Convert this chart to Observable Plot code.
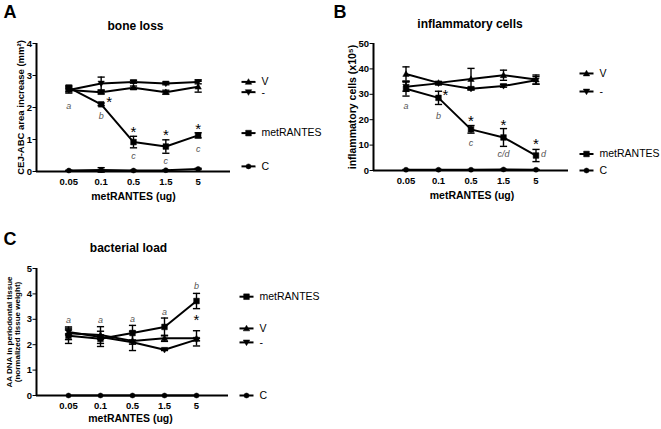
<!DOCTYPE html>
<html>
<head>
<meta charset="utf-8">
<script src="https://cdn.jsdelivr.net/npm/d3@7"></script>
<script src="https://cdn.jsdelivr.net/npm/@observablehq/plot@0.6"></script>
<style>
  html, body { margin: 0; padding: 0; background: #fff; }
  #wrap { position: relative; width: 661px; height: 429px; overflow: hidden; }
  #wrap svg { position: absolute; overflow: visible; }
</style>
</head>
<body>
<div id="wrap"></div>
<script>
// ---------- data ----------
const xLabels = ["0.05", "0.1", "0.5", "1.5", "5"];
const seriesNames = ["V", "-", "metRANTES", "C"];

// Panel A: bone loss (mm^2)
const boneV        = [2.55, 2.48, 2.62, 2.48, 2.65];
const boneVErr     = [0.10, 0.05, 0.05, 0.06, 0.17];
const boneDash     = [2.55, 2.75, 2.80, 2.75, 2.80];
const boneDashErr  = [0.05, 0.20, 0.04, 0.04, 0.06];
const boneMet      = [2.62, 2.10, 0.92, 0.78, 1.13];
const boneMetErr   = [0.07, 0.04, 0.18, 0.21, 0.08];
const boneC        = [0.03, 0.05, 0.03, 0.04, 0.08];
const boneCErr     = [0.01, 0.07, 0.01, 0.01, 0.02];
const boneTicks    = [0, 1, 2, 3, 4];
const boneLetters  = ["a", "b", "c", "c", "c"];
const boneLetterY  = [2.03, 1.72, 0.49, 0.34, 0.71];
const boneStarX    = [2, 3, 4, 5];
const boneStarY    = [2.25, 1.33, 1.22, 1.42];
const boneLegendY  = [2.80, 2.48, 1.20, 0.16];

// Panel B: inflammatory cells (x10^5)
const cellsV       = [38.0, 34.5, 36.0, 37.5, 35.8];
const cellsVErr    = [2.8, 0.5, 4.2, 2.0, 1.8];
const cellsDash    = [33.0, 34.3, 32.2, 33.3, 35.5];
const cellsDashErr = [1.8, 0.5, 0.5, 0.5, 1.5];
const cellsMet     = [32.2, 28.6, 16.2, 13.0, 5.9];
const cellsMetErr  = [2.9, 2.6, 1.5, 3.5, 2.4];
const cellsC       = [0.3, 0.3, 0.3, 0.4, 0.3];
const cellsCErr    = [0.1, 0.1, 0.1, 0.1, 0.1];
const cellsTicks   = [0, 10, 20, 30, 40, 50];
const cellsLetters = ["a", "b", "c", "c/d", "d"];
const cellsLetterY = [25.3, 21.6, 10.9, 6.5, 6.3];
const cellsStarX   = [2, 3, 4, 5];
const cellsStarY   = [31.0, 20.7, 19.2, 11.4];
const cellsLegendY = [38.2, 31.1, 6.5, 0.0];

// Panel C: bacterial load (AA DNA)
const bactV        = [2.45, 2.38, 2.15, 2.25, 2.25];
const bactVErr     = [0.25, 0.33, 0.38, 0.12, 0.30];
const bactDash     = [2.50, 2.30, 2.10, 1.80, 2.20];
const bactDashErr  = [0.08, 0.08, 0.08, 0.03, 0.05];
const bactMet      = [2.35, 2.23, 2.46, 2.70, 3.72];
const bactMetErr   = [0.30, 0.30, 0.30, 0.35, 0.30];
const bactC        = [0, 0, 0, 0, 0];
const bactCErr     = [0, 0, 0, 0, 0];
const bactTicks    = [0, 1, 2, 3, 4, 5];
const bactLetters  = ["a", "a", "a", "a", "b"];
const bactLetterY  = [2.97, 2.97, 3.00, 3.27, 4.29];
const bactStarX    = [5];
const bactStarY    = [3.08];
const bactLegendY  = [2.64, 2.09, 3.89, 0.0];

// ---------- symbols ----------
const symUp = {draw(ctx, size) { const r = Math.sqrt(size / Math.PI), h = r * 1.15;
  ctx.moveTo(0, -h); ctx.lineTo(h, h * 0.75); ctx.lineTo(-h, h * 0.75); ctx.closePath(); }};
const symDown = {draw(ctx, size) { const r = Math.sqrt(size / Math.PI), h = r * 1.15;
  ctx.moveTo(0, h); ctx.lineTo(h, -h * 0.75); ctx.lineTo(-h, -h * 0.75); ctx.closePath(); }};
const symCap = {draw(ctx, size) { const r = Math.sqrt(size / Math.PI);
  ctx.moveTo(-r, 0); ctx.lineTo(r, 0); }};
const seriesSymbol = {"V": symUp, "-": symDown, "metRANTES": "square", "C": "circle"};
const seriesR = {"V": 2.8, "-": 2.8, "metRANTES": 3.2, "C": 2.5};

function rows(name, vals, errs) {
  return vals.map((v, k) => ({series: name, i: k + 1, y: v, e: errs[k]}));
}

const FONT = "'Liberation Sans', Arial, Helvetica, sans-serif";

function panel(cfg) {
  const data = cfg.series.flatMap(s => rows(s.name, s.vals, s.errs));
  const legend = seriesNames.map((n, k) => ({name: n, y: cfg.legendY[k]}));
  const letters = cfg.letters.map((t, k) => ({t, i: k + 1, y: cfg.letterY[k], dx: cfg.letterDx ? cfg.letterDx[k] : 0}));
  const stars = cfg.starX.map((i, k) => ({i, y: cfg.starY[k], dx: cfg.starDx ? cfg.starDx[k] : 0}));
  const marks = [];
  // error bars
  const withErr = data.filter(d => d.e > 0);
  marks.push(Plot.ruleX(withErr, {x: "i", y1: d => d.y - d.e, y2: d => d.y + d.e, stroke: "black", strokeWidth: 1.4}));
  marks.push(Plot.dot(withErr, {x: "i", y: d => d.y + d.e, symbol: symCap, r: 3.6, fill: "none", stroke: "black", strokeWidth: 1.4}));
  marks.push(Plot.dot(withErr, {x: "i", y: d => d.y - d.e, symbol: symCap, r: 3.6, fill: "none", stroke: "black", strokeWidth: 1.4}));
  // lines
  marks.push(Plot.line(data, {x: "i", y: "y", z: "series", stroke: "black", strokeWidth: 2}));
  // axis lines
  marks.push(Plot.ruleY([0], {stroke: "black", strokeWidth: 2}));
  marks.push(Plot.ruleX([0], {stroke: "black", strokeWidth: 2}));
  // markers
  for (const n of seriesNames) {
    marks.push(Plot.dot(data.filter(d => d.series === n), {x: "i", y: "y", symbol: seriesSymbol[n], r: seriesR[n], fill: "black", stroke: "black", strokeWidth: 0.5}));
  }
  // letters & stars
  for (const L of letters) {
    marks.push(Plot.text([L], {x: "i", y: "y", text: "t", dx: L.dx, textAnchor: L.dx ? "start" : "middle", fontStyle: "italic", fontWeight: "normal", fontSize: 9, fill: "#555"}));
  }
  for (const S of stars) {
    marks.push(Plot.text([S], {x: "i", y: "y", text: () => "*", dx: S.dx, fontWeight: "normal", fontSize: 15, fill: "black", lineAnchor: "middle", dy: 3}));
  }
  // legend
  for (const n of seriesNames) {
    const lr = legend.filter(d => d.name === n);
    marks.push(Plot.dot(lr, {y: "y", frameAnchor: "right", dx: cfg.legDx + 6, symbol: symCap, r: 7, fill: "none", stroke: "black", strokeWidth: 2}));
    marks.push(Plot.dot(lr, {y: "y", frameAnchor: "right", dx: cfg.legDx + 6, symbol: seriesSymbol[n], r: seriesR[n], fill: "black", stroke: "black", strokeWidth: 0.5}));
  }
  marks.push(Plot.text(legend, {y: "y", text: "name", frameAnchor: "right", dx: cfg.legDx + 19, textAnchor: "start", fontWeight: "normal", fontSize: 10.5}));
  // panel letter, title, axis labels
  marks.push(Plot.text([cfg.letter], {frameAnchor: "top-left", dx: cfg.letterPos[0], dy: cfg.letterPos[1], textAnchor: "start", lineAnchor: "top", fontSize: 18, fontWeight: "bold"}));
  marks.push(Plot.text([cfg.title], {frameAnchor: "top", dx: cfg.titlePos[0], dy: cfg.titlePos[1], textAnchor: "middle", lineAnchor: "middle", fontSize: 12, fontWeight: "bold"}));
  marks.push(Plot.text(["metRANTES (ug)"], {frameAnchor: "bottom", dx: cfg.xLabPos[0], dy: cfg.xLabPos[1], textAnchor: "middle", lineAnchor: "middle", fontSize: 10.5, fontWeight: "bold"}));
  marks.push(Plot.text([cfg.yLabel], {frameAnchor: "left", dx: cfg.yLabDx, rotate: -90, textAnchor: "middle", lineAnchor: "middle", fontSize: cfg.yLabSize, lineHeight: cfg.yLabLH || 1, fontWeight: "bold"}));

  const svg = Plot.plot({
    width: cfg.width, height: cfg.height,
    marginTop: cfg.m[0], marginRight: cfg.m[1], marginBottom: cfg.m[2], marginLeft: cfg.m[3],
    style: {fontFamily: FONT, fontSize: "9.5px", fontWeight: "bold", color: "black", background: "white", overflow: "visible"},
    x: {domain: [0, 6], ticks: [1, 2, 3, 4, 5], tickFormat: i => xLabels[i - 1], tickSize: 0, tickPadding: 7, label: null},
    y: {domain: [0, cfg.yTicks[cfg.yTicks.length - 1]], ticks: cfg.yTicks, tickFormat: d => String(d), tickSize: 3.5, tickPadding: 1, label: null},
    marks
  });
  svg.style.left = cfg.left + "px";
  svg.style.top = cfg.top + "px";
  return svg;
}

const wrap = document.getElementById("wrap");

wrap.appendChild(panel({
  left: 0, top: 0, width: 330, height: 215, m: [43, 100, 44, 36],
  yTicks: boneTicks,
  series: [
    {name: "V", vals: boneV, errs: boneVErr},
    {name: "-", vals: boneDash, errs: boneDashErr},
    {name: "metRANTES", vals: boneMet, errs: boneMetErr},
    {name: "C", vals: boneC, errs: boneCErr}
  ],
  legendY: boneLegendY, letters: boneLetters, letterY: boneLetterY,
  starX: boneStarX, starY: boneStarY, starDx: [8, 0, 0, 0],
  legDx: 12, letter: "A", letterPos: [-33, -38], title: "bone loss", titlePos: [2, -17],
  xLabPos: [0, 25], yLabel: "CEJ-ABC area increase (mm²)", yLabDx: -16, yLabSize: 9.5
}));

wrap.appendChild(panel({
  left: 330, top: 0, width: 331, height: 215, m: [43, 93, 45, 43],
  yTicks: cellsTicks,
  series: [
    {name: "V", vals: cellsV, errs: cellsVErr},
    {name: "-", vals: cellsDash, errs: cellsDashErr},
    {name: "metRANTES", vals: cellsMet, errs: cellsMetErr},
    {name: "C", vals: cellsC, errs: cellsCErr}
  ],
  legendY: cellsLegendY, letters: cellsLetters, letterDx: [0, 0, 0, 0, 5], letterY: cellsLetterY,
  starX: cellsStarX, starY: cellsStarY, starDx: [7, 0, 0, 0],
  legDx: 12, letter: "B", letterPos: [-40, -38], title: "inflammatory cells", titlePos: [-1, -19],
  xLabPos: [1, 25], yLabel: "inflammatory cells (x10⁵)", yLabDx: -21, yLabSize: 10.5
}));

wrap.appendChild(panel({
  left: 0, top: 215, width: 330, height: 214, m: [53, 102, 34, 36],
  yTicks: bactTicks,
  series: [
    {name: "V", vals: bactV, errs: bactVErr},
    {name: "-", vals: bactDash, errs: bactDashErr},
    {name: "metRANTES", vals: bactMet, errs: bactMetErr},
    {name: "C", vals: bactC, errs: bactCErr}
  ],
  legendY: bactLegendY, letters: bactLetters, letterY: bactLetterY,
  starX: bactStarX, starY: bactStarY,
  legDx: 12, letter: "C", letterPos: [-33, -36], title: "bacterial load", titlePos: [-4, -20],
  xLabPos: [-2, 23], yLabel: "AA DNA in periodontal tissue\n(normalized tissue weight)", yLabDx: -23, yLabSize: 8, yLabLH: 1.05
}));
</script>
</body>
</html>
